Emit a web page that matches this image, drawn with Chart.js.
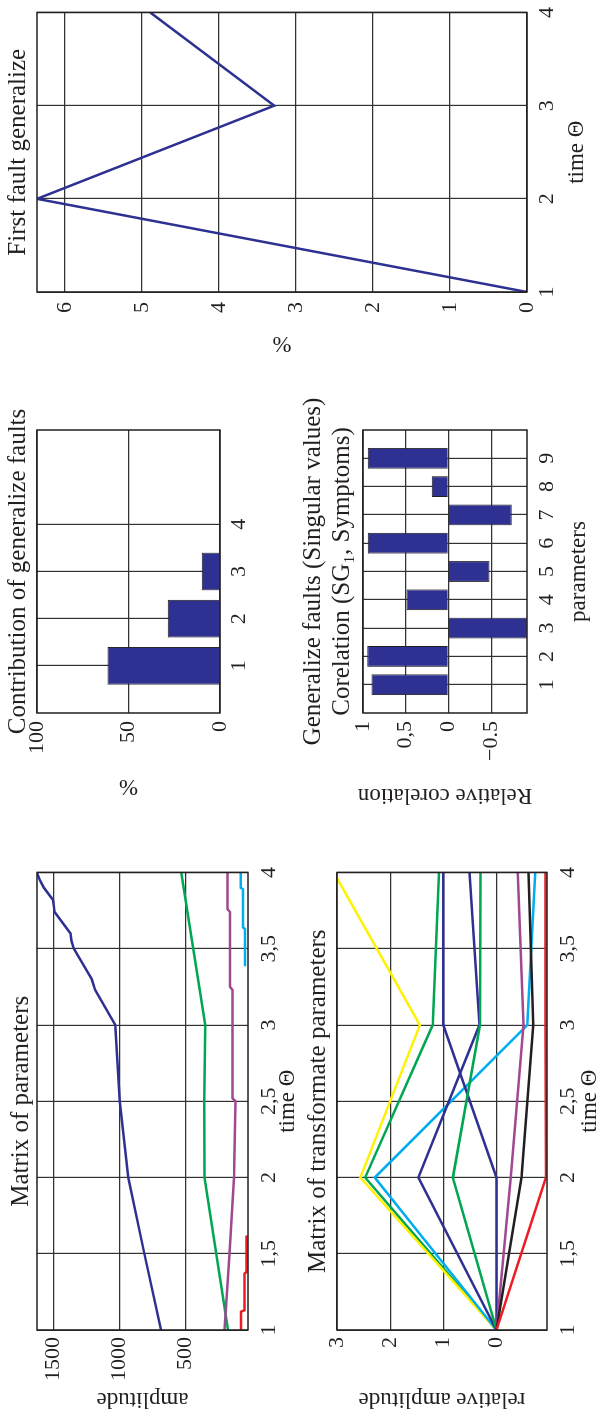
<!DOCTYPE html>
<html>
<head>
<meta charset="utf-8">
<script src="https://cdn.jsdelivr.net/npm/chart.js@4.4.0/dist/chart.umd.min.js"></script>
<style>
html, body { margin: 0; padding: 0; background: #fff; overflow: hidden; width: 596px; height: 1419px; }
/* the figure is laid out in landscape and turned a quarter turn */
#sheet { position: absolute; left: 0; top: 0; width: 1419px; height: 596px;
         transform-origin: 0 0; transform: translate(0, 1419px) rotate(-90deg); }
#sheet canvas { position: absolute; }
</style>
</head>
<body>
<div id="sheet">
  <canvas id="cParams" width="560" height="300" style="left:0px;top:0px"></canvas>
  <canvas id="cTrans" width="560" height="296" style="left:0px;top:300px"></canvas>
  <canvas id="cContrib" width="430" height="260" style="left:610px;top:0px"></canvas>
  <canvas id="cCorel" width="440" height="306" style="left:610px;top:290px"></canvas>
  <canvas id="cFirst" width="409" height="596" style="left:1010px;top:0px"></canvas>
</div>
<script>
// ---- data ----
var timeTicks = [1, 1.5, 2, 2.5, 3, 3.5, 4];
var timeInt = [1, 2, 3, 4];

// Matrix of parameters (amplitude)
var ampTicks = [500, 1000, 1500];
var navyT   = [1, 1.5, 2, 2.5, 3, 3.23, 3.3, 3.5, 3.55, 3.6, 3.74, 3.82, 3.9, 3.95, 4];
var navyAmp = [687, 812, 934, 997, 1031, 1183, 1209, 1344, 1361, 1369, 1489, 1501, 1570, 1600, 1623];
var greenT   = [1, 2, 2.5, 3, 4];
var greenAmp = [180, 358, 360, 352, 534];
var magT   = [1, 1.5, 2, 2.5, 2.52, 3.23, 3.25, 3.74, 3.76, 4];
var magAmp = [208, 170, 135, 125, 147, 147, 165, 165, 185, 185];
var redT   = [1, 1.12, 1.13, 1.37, 1.38, 1.62];
var redAmp = [82, 82, 56, 56, 42, 42];
var cyanT   = [3.385, 3.63, 3.64, 3.89, 3.9, 4];
var cyanAmp = [52, 52, 67, 67, 85, 85];

// Matrix of transformate parameters (relative amplitude), at time 1..4
var relTicks = [0, 1, 2, 3];
var relYellow = [0, 2.56, 1.44, 3.06];
var relGreen1 = [0, 2.47, 1.20, 1.08];
var relCyan   = [0, 2.29, -0.58, -0.73];
var relNavy1  = [0, 1.47, 0.32, 0.51];
var relNavy2  = [0, 0, 1.0, 1.0];
var relGreen2 = [0, 0.82, 0.31, 0.30];
var relMag    = [0, -0.27, -0.51, -0.40];
var relBlack  = [0, -0.47, -0.69, -0.60];
var relRed    = [0, -0.93, -0.92, -0.92];

// Contribution of generalize faults (%)
var faultIdx = [1, 2, 3];
var faultTicks = [1, 2, 3, 4];
var contribution = [61.5, 28.5, 10.0];
var pctTicks = [0, 50, 100];

// Corelation (SG1, Symptoms)
var paramIdx = [1, 2, 3, 4, 5, 6, 7, 8, 9];
var corelation = [0.90, 0.95, -0.93, 0.49, -0.48, 0.945, -0.74, 0.195, 0.945];
var corTicks = [-0.5, 0, 0.5, 1];
var corTickLabels = ['\u22120.5', '0', '0,5', '1'];

// First fault generalize (%)
var firstFault = [0, 6.36, 3.28, 4.89];
var firstTicks = [0, 1, 2, 3, 4, 5, 6];

// ---- styling ----
var NAVY = 'rgb(46, 49, 146)', GREEN = 'rgb(0, 166, 81)', MAG = 'rgb(160, 72, 145)',
    CYAN = 'rgb(0, 174, 239)', YELLOW = 'rgb(255, 242, 0)', RED = 'rgb(237, 28, 36)',
    BLACK = 'rgb(35, 31, 32)', GRID = 'rgb(50, 50, 50)';
var FAMILY = "'Liberation Serif', 'DejaVu Serif', serif";

Chart.defaults.font.family = FAMILY;
Chart.defaults.font.size = 22;
Chart.defaults.color = BLACK;
Chart.defaults.animation = false;
Chart.defaults.plugins.legend.display = false;
Chart.defaults.plugins.tooltip.enabled = false;
Chart.defaults.elements.point.radius = 0;
Chart.defaults.elements.line.borderWidth = 2.5;

// box around every plot area
Chart.register({
  id: 'frame',
  afterDatasetsDraw: function (chart) {
    var a = chart.chartArea, c = chart.ctx;
    c.save();
    c.strokeStyle = BLACK;
    c.lineWidth = 1.5;
    c.strokeRect(a.left, a.top, a.right - a.left, a.bottom - a.top);
    c.restore();
  }
});

// chart heading centred on the plot area, allowed to run past it like the original
Chart.register({
  id: 'heading',
  defaults: {text: '', y: 20, step: 29},
  afterDraw: function (chart, args, opts) {
    if (!opts.text) return;
    var a = chart.chartArea, c = chart.ctx, lines = [].concat(opts.text);
    c.save();
    c.font = '25px ' + FAMILY;
    c.fillStyle = BLACK;
    c.textAlign = 'center';
    c.textBaseline = 'middle';
    lines.forEach(function (t, i) { c.fillText(t, (a.left + a.right) / 2, opts.y + i * opts.step); });
    c.restore();
  }
});

function pts(xs, ys) {
  return ys.map(function (y, i) { return {x: xs[i], y: y}; });
}

function axis(o) {
  return {
    type: 'linear', min: o.min, max: o.max, offset: false,
    afterBuildTicks: function (s) { s.ticks = o.ticks.map(function (v) { return {value: v}; }); },
    afterFit: function (s) { if (s.isHorizontal()) s.height = o.size; else s.width = o.size; },
    grid: {color: GRID, lineWidth: 1.2, drawTicks: false, offset: false},
    border: {display: false},
    ticks: {
      padding: o.pad, autoSkip: false, maxRotation: 0,
      callback: o.fmt || function (v) { return String(v).replace('.', ','); }
    },
    title: {display: !!o.title, text: o.title, font: {size: 23}, padding: o.titlePad || 0}
  };
}

function line(data, color) {
  return {data: data, borderColor: color, fill: false};
}

// Matrix of parameters
new Chart(document.getElementById('cParams'), {
  type: 'line',
  data: {datasets: [
    line(pts(magT, magAmp), MAG),
    line(pts(greenT, greenAmp), GREEN),
    line(pts(navyT, navyAmp), NAVY),
    line(pts(redT, redAmp), RED),
    line(pts(cyanT, cyanAmp), CYAN)
  ]},
  options: {
    responsive: false,
    layout: {padding: {left: 0, right: 11, top: 37, bottom: 0}},
    plugins: {heading: {text: 'Matrix of parameters', y: 21}},
    scales: {
      x: axis({min: 1, max: 4, ticks: timeTicks, size: 52, pad: 8, title: 'time \u0398', titlePad: {top: 0, bottom: -2}}),
      y: axis({min: 30, max: 1622, ticks: ampTicks, size: 89, pad: 7, title: 'amplitude', titlePad: {top: 6, bottom: 0}})
    }
  }
});

// Matrix of transformate parameters
new Chart(document.getElementById('cTrans'), {
  type: 'line',
  data: {datasets: [
    line(pts(timeInt, relRed), RED),
    line(pts(timeInt, relBlack), BLACK),
    line(pts(timeInt, relMag), MAG),
    line(pts(timeInt, relGreen2), GREEN),
    line(pts(timeInt, relNavy2), NAVY),
    line(pts(timeInt, relNavy1), NAVY),
    line(pts(timeInt, relCyan), CYAN),
    line(pts(timeInt, relYellow), YELLOW),
    line(pts(timeInt, relGreen1), GREEN)
  ]},
  options: {
    responsive: false,
    layout: {padding: {left: 0, right: 11, top: 37, bottom: 0}},
    plugins: {heading: {text: 'Matrix of transformate parameters', y: 18}},
    scales: {
      x: axis({min: 1, max: 4, ticks: timeTicks, size: 49, pad: 8, title: 'time \u0398', titlePad: {top: 0, bottom: -8}}),
      y: axis({min: -0.95, max: 3, ticks: relTicks, size: 89, pad: 7, title: 'relative amplitude', titlePad: {top: 6, bottom: 0}})
    }
  }
});

// Contribution of generalize faults
new Chart(document.getElementById('cContrib'), {
  type: 'bar',
  data: {datasets: [{
    data: pts(faultIdx, contribution),
    backgroundColor: NAVY, borderColor: BLACK, borderWidth: 1,
    categoryPercentage: 0.8, barPercentage: 1.0
  }]},
  options: {
    responsive: false,
    layout: {padding: {left: 0, right: 51, top: 37, bottom: 0}},
    plugins: {heading: {text: 'Contribution of generalize faults', y: 18}},
    scales: {
      x: axis({min: 0, max: 6, ticks: faultTicks, size: 40, pad: 6}),
      y: axis({min: 0, max: 100, ticks: pctTicks, size: 96, pad: 8, title: '%', titlePad: {top: 9, bottom: 0}})
    }
  }
});

// Generalize faults: corelation
new Chart(document.getElementById('cCorel'), {
  type: 'bar',
  data: {datasets: [{
    data: pts(paramIdx, corelation),
    backgroundColor: NAVY, borderColor: BLACK, borderWidth: 1,
    categoryPercentage: 0.8, barPercentage: 0.92
  }]},
  options: {
    responsive: false,
    layout: {padding: {left: 0, right: 61, top: 73, bottom: 0}},
    plugins: {heading: {text: ['Generalize faults (Singular values)', 'Corelation (SG\u2081, Symptoms)'], y: 23, step: 29}},
    scales: {
      x: axis({min: 0, max: 10, ticks: paramIdx, size: 69, pad: 7, title: 'parameters', titlePad: {top: 0, bottom: 3}}),
      y: axis({min: -0.92, max: 1, ticks: corTicks, size: 96, pad: 8, title: 'Relative corelation', titlePad: {top: 0, bottom: 0},
               fmt: function (v) { return corTickLabels[corTicks.indexOf(v)]; }})
    }
  }
});

// First fault generalize
new Chart(document.getElementById('cFirst'), {
  type: 'line',
  data: {datasets: [line(pts(timeInt, firstFault), NAVY)]},
  options: {
    responsive: false,
    layout: {padding: {left: 0, right: 8, top: 37, bottom: 0}},
    plugins: {heading: {text: 'First fault generalize', y: 18}},
    scales: {
      x: axis({min: 1, max: 4, ticks: timeInt, size: 69, pad: 7, title: 'time \u0398', titlePad: {top: 0, bottom: 5}}),
      y: axis({min: 0, max: 6.36, ticks: firstTicks, size: 117, pad: 10, title: '%', titlePad: {top: 52, bottom: 0}})
    }
  }
});
</script>
</body>
</html>
